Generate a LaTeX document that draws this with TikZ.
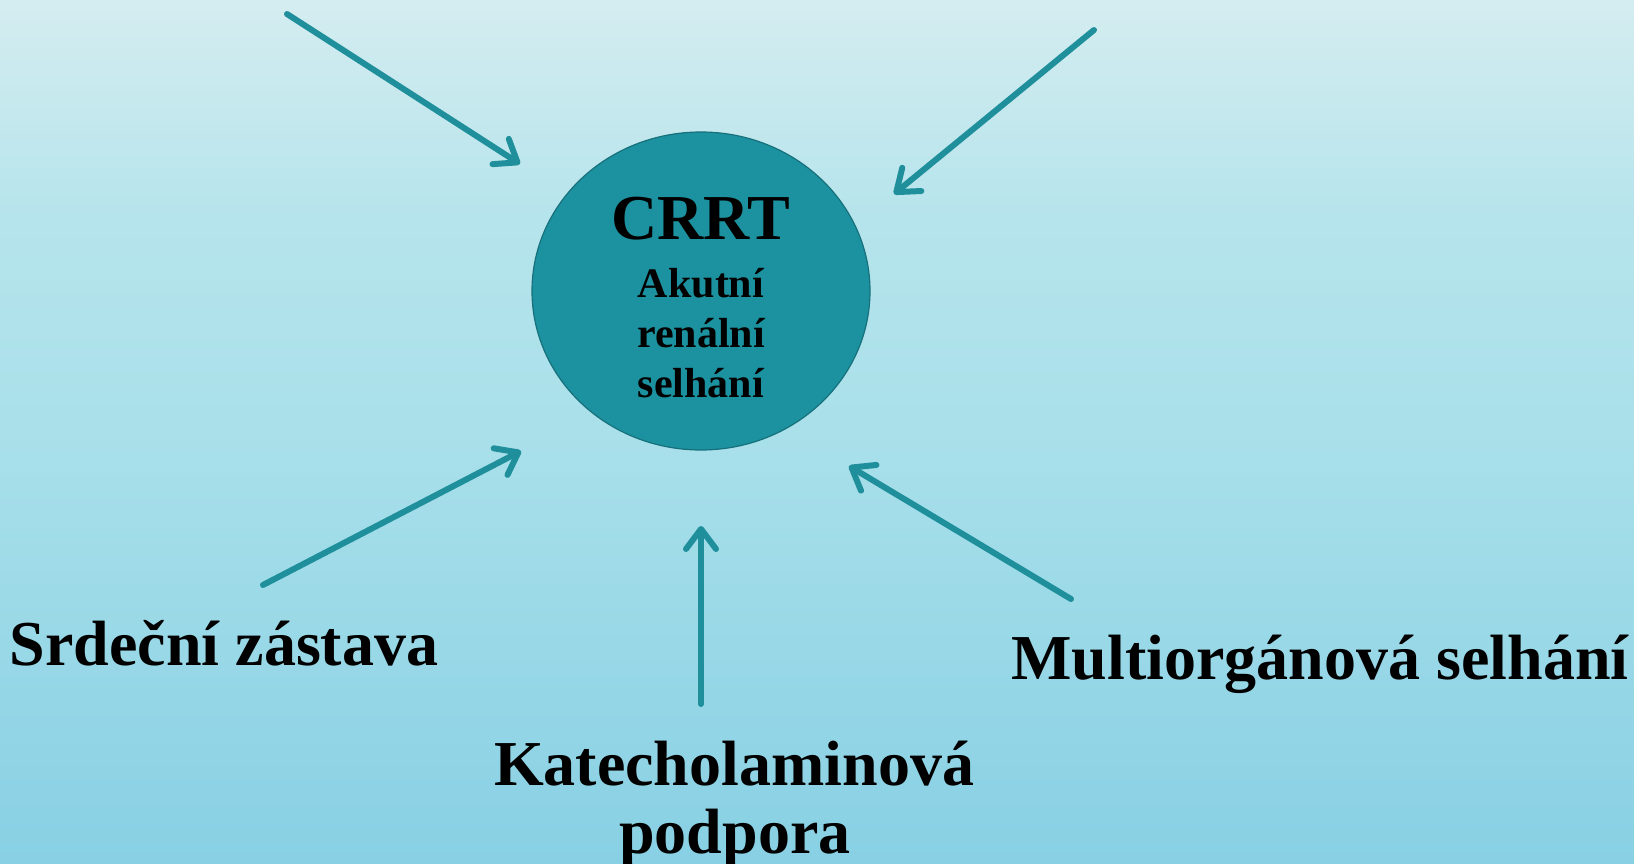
\documentclass[tikz,border=0pt]{standalone}
\usepackage{fontspec}
\setmainfont{Liberation Serif}
\usetikzlibrary{arrows.meta,shapes.geometric}
\definecolor{bgtop}{HTML}{D4EDF0}
\definecolor{bgmid}{HTML}{A9E0EA}
\definecolor{bgbot}{HTML}{88D0E4}
\definecolor{teal}{HTML}{1C919F}
\definecolor{tealdark}{HTML}{17717C}
\definecolor{arrowc}{HTML}{1F8F9C}
\tikzset{
  bigtext/.style={font=\fontsize{64}{70}\selectfont\bfseries, text=black, inner sep=0pt, anchor=base},
  smalltext/.style={font=\fontsize{42}{50}\selectfont\bfseries, text=black, inner sep=0pt, anchor=base},
  feed/.style={draw=arrowc, line width=6pt, line cap=round,
    -{Straight Barb[length=20pt,width=30pt,round,line width=6pt]}},
}
\begin{document}
\begin{tikzpicture}[x=1pt,y=-1pt]
\useasboundingbox (0,0) rectangle (1634,864);
\shade[top color=bgtop, bottom color=bgmid, middle color=bgmid!70!bgtop] (0,0) rectangle (1634,432);
\shade[top color=bgmid, bottom color=bgbot] (0,432) rectangle (1634,864);
% central circle
\node[ellipse, minimum width=338pt, minimum height=318pt, fill=teal, draw=tealdark, line width=1.2pt] (crrt) at (701,291) {};
\node[bigtext] (t0) at (701,240) {CRRT};
\node[smalltext] (t1) at (701,297) {Akutní};
\node[smalltext] (t2) at (701,347) {renální};
\node[smalltext] (t3) at (701,397) {selhání};
% labels
\node[bigtext] (srd) at (224,665) {Srdeční zástava};
\node[bigtext] (multi) at (1320,679) {Multiorgánová selhání};
\node[bigtext] (kat) at (734,785) {Katecholaminová};
\node[bigtext] (pod) at (735,853) {podpora};
% arrow ends
\coordinate (a1s) at (287,14);
\coordinate (a1e) at (520,164);
\coordinate (a2s) at (1094,30);
\coordinate (a2e) at (894,194);
\coordinate (a3s) at (263,585);
\coordinate (a3e) at (521,451);
\coordinate (a4s) at (701,704);
\coordinate (a4e) at (701,526);
\coordinate (a5s) at (1071,599);
\coordinate (a5e) at (849,466);
\draw[feed] (a1s) -- (a1e);
\draw[feed] (a2s) -- (a2e);
\draw[feed] (a3s) -- (a3e);
\draw[feed] (a4s) -- (a4e);
\draw[feed] (a5s) -- (a5e);
\end{tikzpicture}
\end{document}
